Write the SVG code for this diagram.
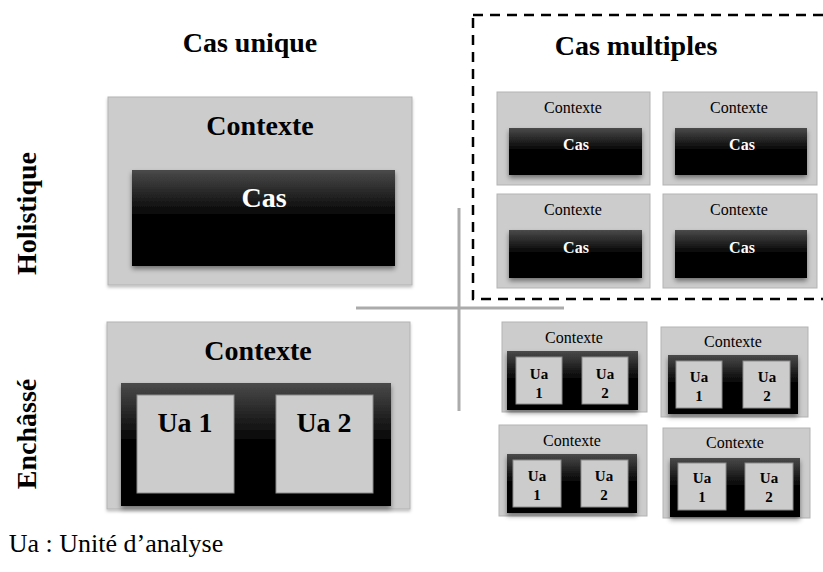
<svg xmlns="http://www.w3.org/2000/svg" width="823" height="572" viewBox="0 0 823 572">
<defs>
<linearGradient id="blk" x1="0" y1="0" x2="0" y2="1">
<stop offset="0" stop-color="#4a4a4a"/>
<stop offset="0.5" stop-color="#000"/>
<stop offset="1" stop-color="#000"/>
</linearGradient>
<filter id="sh" x="-10%" y="-10%" width="120%" height="130%">
<feDropShadow dx="0" dy="3" stdDeviation="2.5" flood-color="#000" flood-opacity="0.45"/>
</filter>
<filter id="shl" x="-10%" y="-10%" width="120%" height="130%">
<feDropShadow dx="0" dy="2" stdDeviation="1.5" flood-color="#000" flood-opacity="0.25"/>
</filter>
</defs>
<style>
.ctx{fill:#cccccc;stroke:#b3b3b3;stroke-width:1}
.blk{fill:url(#blk)}
.ua{fill:#cccccc;stroke:#8c8c8c;stroke-width:1}
.t{font-family:'Liberation Serif','DejaVu Serif',serif;text-anchor:middle}
.b{font-weight:bold}
.big{font-size:28px}
.sm{font-size:16px}
.xs{font-size:15px}
.w{fill:#fff}
.cross{stroke:#ababab;stroke-width:3;fill:none}
.dash{fill:none;stroke:#000;stroke-width:2.5;stroke-dasharray:10 7}
</style>
<rect width="823" height="572" fill="#fff"/>

<g id="titles" font-family="Liberation Serif, serif">
<text class="t b big" x="250" y="52">Cas unique</text>
<text class="t b big" x="636" y="55">Cas multiples</text>
<text class="t b big" transform="translate(36,213.5) rotate(-90)">Holistique</text>
<text class="t b big" transform="translate(36,434) rotate(-90)">Enchâssé</text>
<text class="t" x="116" y="552" style="font-size:26px">Ua : Unité d’analyse</text>
</g>

<g id="axes">
<line class="cross" x1="356" y1="308" x2="564" y2="308"/>
<line class="cross" x1="459" y1="208" x2="459" y2="411"/>
</g>

<g id="multi-frame">
<rect class="dash" x="473" y="15" width="360" height="284"/>
</g>

<g id="holistic-single">
<rect class="ctx" x="108" y="97" width="304" height="188" filter="url(#shl)"/>
<text class="t b big" x="260" y="135">Contexte</text>
<rect class="blk" x="132" y="170" width="263" height="96" filter="url(#sh)"/>
<text class="t b big w" x="264" y="207">Cas</text>
</g>

<g id="holistic-m1">
<rect class="ctx" x="497" y="92" width="153" height="93"/>
<text class="t sm" x="573" y="113">Contexte</text>
<rect class="blk" x="509" y="128" width="133" height="47" filter="url(#sh)"/>
<text class="t sm b w" x="576" y="150">Cas</text>
</g>
<g id="holistic-m2">
<rect class="ctx" x="663" y="92" width="154" height="93"/>
<text class="t sm" x="739" y="113">Contexte</text>
<rect class="blk" x="675" y="128" width="132" height="47" filter="url(#sh)"/>
<text class="t sm b w" x="742" y="150">Cas</text>
</g>
<g id="holistic-m3">
<rect class="ctx" x="497" y="194" width="153" height="94"/>
<text class="t sm" x="573" y="215">Contexte</text>
<rect class="blk" x="509" y="230" width="133" height="48" filter="url(#sh)"/>
<text class="t sm b w" x="576" y="253">Cas</text>
</g>
<g id="holistic-m4">
<rect class="ctx" x="663" y="194" width="154" height="94"/>
<text class="t sm" x="739" y="215">Contexte</text>
<rect class="blk" x="675" y="230" width="132" height="48" filter="url(#sh)"/>
<text class="t sm b w" x="742" y="253">Cas</text>
</g>

<g id="embedded-single">
<rect class="ctx" x="107" y="322" width="303" height="187" filter="url(#shl)"/>
<text class="t b big" x="258" y="360">Contexte</text>
<rect class="blk" x="121" y="383" width="270" height="123" filter="url(#sh)"/>
<rect class="ua" x="137" y="395" width="97" height="98"/>
<rect class="ua" x="276" y="395" width="97" height="98"/>
<text class="t b big" x="185" y="432">Ua 1</text>
<text class="t b big" x="324" y="432">Ua 2</text>
</g>

<g id="embedded-m1">
<rect class="ctx" x="502" y="322" width="145" height="90"/>
<text class="t sm" x="574" y="343">Contexte</text>
<rect class="blk" x="507" y="351" width="131" height="59" filter="url(#sh)"/>
<rect class="ua" x="516" y="357" width="46" height="47"/>
<rect class="ua" x="582" y="357" width="46" height="47"/>
<text class="t xs b" x="539" y="379">Ua</text><text class="t xs b" x="539" y="398">1</text>
<text class="t xs b" x="605" y="379">Ua</text><text class="t xs b" x="605" y="398">2</text>
</g>
<g id="embedded-m2">
<rect class="ctx" x="661" y="327" width="147" height="90"/>
<text class="t sm" x="733" y="347">Contexte</text>
<rect class="blk" x="668" y="355" width="130" height="59" filter="url(#sh)"/>
<rect class="ua" x="676" y="361" width="46" height="47"/>
<rect class="ua" x="743" y="361" width="47" height="47"/>
<text class="t xs b" x="699" y="382">Ua</text><text class="t xs b" x="699" y="401">1</text>
<text class="t xs b" x="767" y="382">Ua</text><text class="t xs b" x="767" y="401">2</text>
</g>
<g id="embedded-m3">
<rect class="ctx" x="499" y="425" width="148" height="91"/>
<text class="t sm" x="572" y="446">Contexte</text>
<rect class="blk" x="507" y="454" width="130" height="59" filter="url(#sh)"/>
<rect class="ua" x="513" y="460" width="48" height="47"/>
<rect class="ua" x="581" y="460" width="47" height="47"/>
<text class="t xs b" x="537" y="481">Ua</text><text class="t xs b" x="537" y="500">1</text>
<text class="t xs b" x="604" y="481">Ua</text><text class="t xs b" x="604" y="500">2</text>
</g>
<g id="embedded-m4">
<rect class="ctx" x="663" y="428" width="147" height="90"/>
<text class="t sm" x="735" y="448">Contexte</text>
<rect class="blk" x="670" y="458" width="130" height="59" filter="url(#sh)"/>
<rect class="ua" x="678" y="463" width="48" height="47"/>
<rect class="ua" x="745" y="463" width="48" height="47"/>
<text class="t xs b" x="702" y="483">Ua</text><text class="t xs b" x="702" y="502">1</text>
<text class="t xs b" x="769" y="483">Ua</text><text class="t xs b" x="769" y="502">2</text>
</g>
</svg>
